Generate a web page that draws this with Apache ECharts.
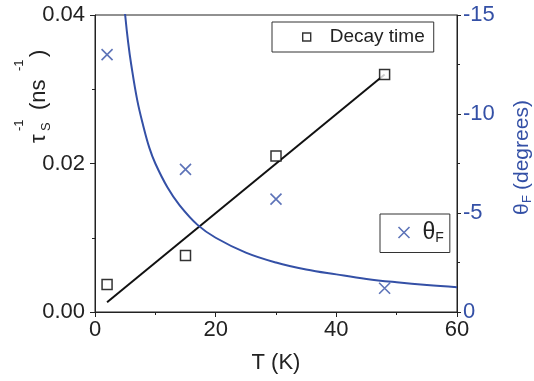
<!DOCTYPE html>
<html>
<head>
<meta charset="utf-8">
<script src="https://cdn.jsdelivr.net/npm/echarts@6/dist/echarts.min.js"></script>
<style>
  html, body { margin: 0; padding: 0; background: #fff; }
  #chart { width: 534px; height: 381px; }
</style>
</head>
<body>
<div id="chart"></div>
<script>
// measured points
const temps = [2, 15, 30, 48]
const decayRate = [0.0037, 0.0076, 0.0210, 0.0320]
const faraday = [-13.0, -7.2, -5.7, -1.2]

// linear fit of decay rate
const fitT = [2, 48]
const fitRate = [0.0013, 0.0320]

// fit curve of Faraday angle
const curveT = [4.5, 5, 5.5, 6, 7, 8, 9, 10, 12, 14, 17, 20, 25, 30, 35, 40, 45, 50, 55, 60]
const curveTheta = [-16.7, -15.0, -13.6, -12.5, -10.7, -9.4, -8.3, -7.5, -6.3, -5.4, -4.4, -3.75, -3.0, -2.5, -2.15, -1.9, -1.67, -1.5, -1.36, -1.25]

const xTicks = [0, 20, 40, 60]

const blue = '#3450a6'
const ink = '#222'
const font = "'Liberation Sans', Arial, sans-serif"

const chart = echarts.init(document.getElementById('chart'))

const zip = (a, b) => a.map((v, i) => [v, b[i]])

// small helper for the rotated axis titles (text sits on its bottom edge)
const txt = (text, x, y, size, color) => ({
  type: 'text', x: x, y: y,
  style: { text: text, font: size + 'px ' + font, fill: color, verticalAlign: 'bottom', align: 'left' }
})

const option = {
  animation: false,
  backgroundColor: '#fff',
  textStyle: { fontFamily: font },
  grid: {
    left: 95, right: 77, top: 15, bottom: 69,
    show: true, borderColor: ink, borderWidth: 1
  },
  xAxis: {
    type: 'value',
    min: xTicks[0], max: xTicks[xTicks.length - 1], interval: 20,
    name: 'T (K)', nameLocation: 'middle', nameGap: 40,
    nameTextStyle: { fontSize: 22, color: ink, fontFamily: font },
    axisLine: { lineStyle: { color: ink, width: 1 } },
    axisTick: { length: 5, lineStyle: { color: ink } },
    minorTick: { show: true, splitNumber: 2, length: 3, lineStyle: { color: ink } },
    axisLabel: { fontSize: 22, color: ink, margin: 7, fontFamily: font },
    splitLine: { show: false }
  },
  yAxis: [
    {
      type: 'value', position: 'left',
      min: 0, max: 0.04, interval: 0.02,
      axisLine: { show: true, lineStyle: { color: ink, width: 1 } },
      axisTick: { show: true, length: 5, lineStyle: { color: ink } },
      minorTick: { show: true, splitNumber: 2, length: 3, lineStyle: { color: ink } },
      axisLabel: { fontSize: 22, color: ink, margin: 10, fontFamily: font, formatter: v => v.toFixed(2) },
      splitLine: { show: false }
    },
    {
      type: 'value', position: 'right',
      min: -15, max: 0, interval: 5, inverse: true,
      axisLine: { show: true, lineStyle: { color: ink, width: 1 } },
      axisTick: { show: true, length: 4, lineStyle: { color: ink } },
      minorTick: { show: true, splitNumber: 2, length: 3, lineStyle: { color: ink } },
      axisLabel: { fontSize: 22, color: blue, margin: 6, fontFamily: font },
      splitLine: { show: false }
    }
  ],
  legend: [
    {
      data: [{
        name: 'Decay time', icon: 'rect',
        itemStyle: { color: '#fff', borderColor: '#000', borderWidth: 1.4 }
      }],
      left: 272, top: 22,
      padding: [5, 9, 5, 30],
      itemWidth: 8, itemHeight: 8,
      borderColor: '#333', borderWidth: 1,
      formatter: name => '{t|' + name + '}',
      textStyle: {
        fontSize: 19, color: ink, fontFamily: font, lineHeight: 20,
        rich: { t: { fontSize: 19, color: ink, fontFamily: font, lineHeight: 20, padding: [0, 0, 0, 14] } }
      },
      selectedMode: false
    },
    {
      data: [{
        name: 'θF', icon: 'path://M0,0L10,10M10,0L0,10',
        itemStyle: { color: 'none', borderColor: blue, borderWidth: 1.6 }
      }],
      left: 380, top: 214,
      padding: [7, 6, 7, 16],
      itemWidth: 11, itemHeight: 11,
      borderColor: '#333', borderWidth: 1,
      formatter: () => '{t|θ}{s|F}',
      textStyle: {
        color: ink, fontFamily: font,
        rich: {
          t: { fontSize: 23, padding: [0, 0, 0, 8], color: ink, fontFamily: font, lineHeight: 26 },
          s: { fontSize: 14, color: ink, fontFamily: font, verticalAlign: 'bottom', lineHeight: 14, padding: [8, 0, 0, 0] }
        }
      },
      selectedMode: false
    }
  ],
  graphic: [
    {
      type: 'group', x: 45, y: 143, rotation: Math.PI / 2,
      children: [
        txt('τ', 0, 5, 22, ink),
        txt('S', 12, 8, 13, ink),
        txt('-1', 12, -19, 13, ink),
        txt('(ns', 33, 5, 22, ink),
        txt('-1', 72, -19, 13, ink),
        txt(')', 86, 5, 22, ink)
      ]
    },
    {
      type: 'group', x: 528, y: 215, rotation: Math.PI / 2,
      children: [
        txt('θ', 0, 5, 21, blue),
        txt('F', 12, 6, 13, blue),
        txt('(degrees)', 25, 5, 21, blue)
      ]
    }
  ],
  series: [
    {
      name: 'Decay fit', type: 'line',
      xAxisIndex: 0, yAxisIndex: 0,
      data: zip(fitT, fitRate),
      symbol: 'none',
      lineStyle: { color: '#111', width: 2 },
      z: 2
    },
    {
      name: 'θ fit', type: 'line',
      xAxisIndex: 0, yAxisIndex: 1,
      data: zip(curveT, curveTheta),
      symbol: 'none', smooth: 0.4,
      lineStyle: { color: blue, width: 2 },
      clip: true,
      z: 2
    },
    {
      name: 'Decay time', type: 'scatter',
      xAxisIndex: 0, yAxisIndex: 0,
      data: zip(temps, decayRate),
      symbol: 'rect', symbolSize: 10,
      itemStyle: { color: '#fff', borderColor: '#000', borderWidth: 1.5 },
      z: 3
    },
    {
      name: 'θF', type: 'scatter',
      xAxisIndex: 0, yAxisIndex: 1,
      data: zip(temps, faraday),
      symbol: 'path://M0,0L10,10M10,0L0,10', symbolSize: 11,
      itemStyle: { color: 'none', borderColor: blue, borderWidth: 1.6 },
      z: 3
    }
  ]
}

chart.setOption(option)
</script>
</body>
</html>
